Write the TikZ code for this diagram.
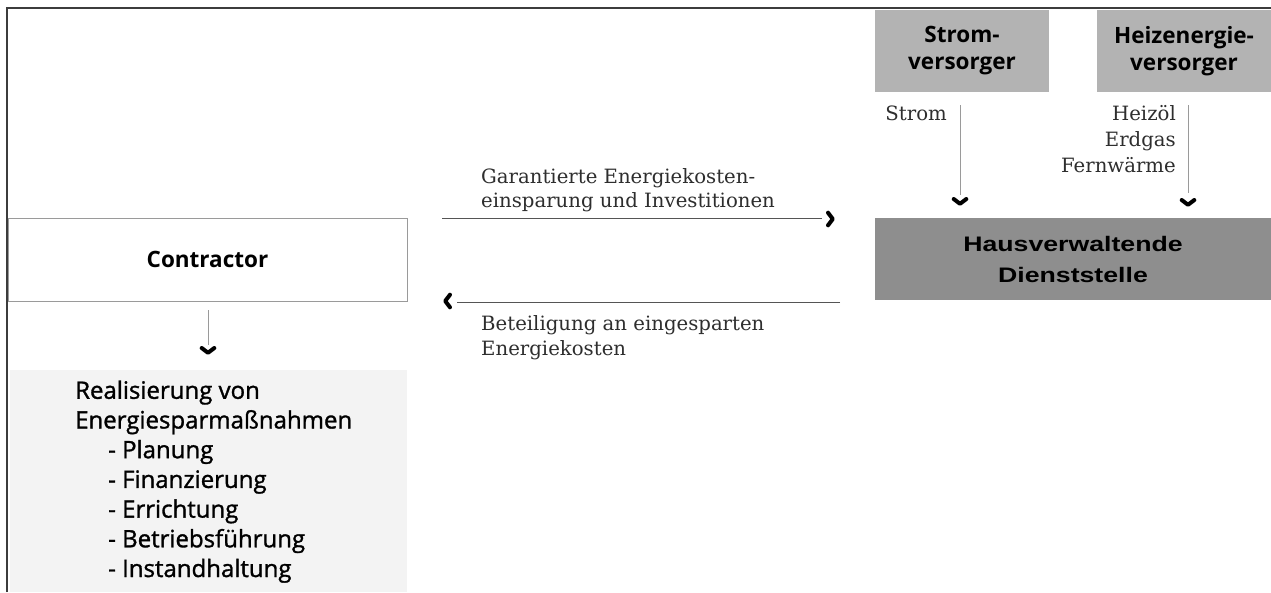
\documentclass[tikz,border=0pt]{standalone}
\usepackage{fontspec}
\setmainfont{DejaVu Serif}
\newfontfamily\boxfont{Open Sans}
\newfontfamily\hausfont{Liberation Sans}[FakeStretch=1.27]
\newfontfamily\realfont{Open Sans}[BoldFont={Open Sans}, BoldFeatures={FakeBold=1.3}]
\definecolor{framecol}{HTML}{3C3C3C}
\definecolor{supgray}{HTML}{B3B3B3}
\definecolor{hausgray}{HTML}{8E8E8E}
\definecolor{realfill}{HTML}{F3F3F3}
\definecolor{linegray}{HTML}{9A9A9A}
\definecolor{darkline}{HTML}{555555}
\definecolor{txtgray}{HTML}{2E2E2E}
\tikzset{
  supbox/.style={fill=supgray, draw=none, minimum width=174pt, minimum height=82pt, align=center, inner sep=0pt,
    font=\boxfont\bfseries\fontsize{22.5}{27}\selectfont},
  hausbox/.style={fill=hausgray, draw=none, minimum width=396pt, minimum height=82pt, align=center, inner sep=0pt,
    font=\hausfont\bfseries\fontsize{21}{31}\selectfont},
  contrbox/.style={fill=white, draw=linegray, line width=0.9pt, minimum width=399pt, minimum height=83pt, inner sep=0pt,
    font=\boxfont\bfseries\fontsize{22.5}{27}\selectfont},
  realbox/.style={fill=realfill, draw=none, minimum width=397pt, minimum height=222pt, inner sep=0pt},
  realtext/.style={anchor=base west, align=left, inner sep=0pt, font=\realfont\bfseries\fontsize{24}{29.7}\selectfont},
  lbl/.style={anchor=base west, inner sep=0pt, text=txtgray, font=\fontsize{19.7}{24}\selectfont},
  lblr/.style={anchor=base east, inner sep=0pt, text=txtgray, font=\fontsize{19.7}{24}\selectfont},
  flow/.style={draw=linegray, line width=0.9pt},
  hflow/.style={draw=darkline, line width=1pt},
  pics/chev/.style={code={
    \draw[black, line width=4pt, line cap=round, line join=round] (-6.3,-3) -- (0,1.8) -- (6.3,-3);
  }},
}
\begin{document}
\begin{tikzpicture}[x=1pt,y=-1pt]
\useasboundingbox (0,0) rectangle (1271,592);
\fill[white] (0,0) rectangle (1271,592);
% frame
\draw[framecol, line width=2.5pt] (7,592) -- (7,8) -- (1271,8);

% boxes
\node[supbox] (strom) at (962,51) {Strom-\\versorger};
\node[supbox] (heiz) at (1184,51) {Heizenergie-\\versorger};
\node[hausbox] (haus) at (1073,259) {Hausverwaltende\\Dienststelle};
\node[contrbox] (contr) at (207.5,259.5) {Contractor};
\node[realbox] (real) at (208.5,481) {};
\node[realtext] (realt) at (75,577) {Realisierung von\\Energiesparmaßnahmen\\
  \hspace*{33pt}- Planung\\
  \hspace*{33pt}- Finanzierung\\
  \hspace*{33pt}- Errichtung\\
  \hspace*{33pt}- Betriebsführung\\
  \hspace*{33pt}- Instandhaltung};

% vertical flows
\draw[flow, shorten <=13pt, shorten >=23pt] ([xshift=-2pt]strom.south) -- ([xshift=-2pt]strom.south |- haus.north);
\draw[flow, shorten <=13pt, shorten >=25pt] ([xshift=4pt]heiz.south) -- ([xshift=4pt]heiz.south |- haus.north);
\draw[flow, shorten <=9pt, shorten >=25pt] ([xshift=0.5pt]contr.south) -- ([xshift=0.5pt]contr.south |- real.north);
\pic at (960,202) {chev};
\pic at (1188,203) {chev};
\pic at (208,351) {chev};

% horizontal flows
\coordinate (g1) at (442,218);
\coordinate (g2) at (822,218);
\coordinate (b1) at (840,302);
\coordinate (b2) at (457,302);
\draw[hflow] (g1) -- (g2);
\draw[hflow] (b1) -- (b2);
\pic[rotate=90] at (831,219) {chev};
\pic[rotate=-90] at (447,301) {chev};

% labels
\node[lblr] (lstrom) at (947,120) {Strom};
\node[lblr] (lheiz1) at (1176,120) {Heizöl};
\node[lblr] (lheiz2) at (1176,146) {Erdgas};
\node[lblr] (lheiz3) at (1176,172) {Fernwärme};
\node[lbl] (lg1) at (481,183) {Garantierte Energiekosten-};
\node[lbl] (lg2) at (481,207) {einsparung und Investitionen};
\node[lbl] (lb1) at (481,330) {Beteiligung an eingesparten};
\node[lbl] (lb2) at (481,355) {Energiekosten};
\end{tikzpicture}
\end{document}
